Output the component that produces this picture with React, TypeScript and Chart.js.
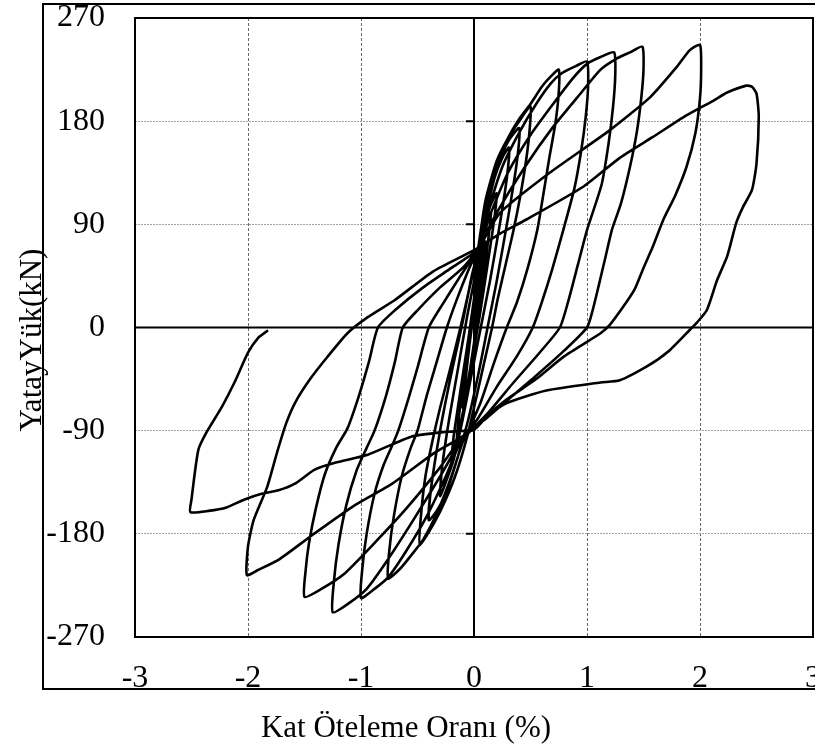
import React, { useEffect, useRef } from "react";
import { Chart, registerables } from "chart.js";

Chart.register(...registerables);

// Axis ticks
const xTicks = [-3, -2, -1, 0, 1, 2, 3];
const yTicks = [-270, -180, -90, 0, 90, 180, 270];
const xTitle = "Kat Öteleme Oranı (%)";
const yTitle = "YatayYük(kN)";

// Hysteresis record: drift ratio (%) vs lateral load (kN), cycle by cycle
const cycle010 = [[0, 0], [0.04, 35], [0.08, 62], [0.1, 75], [0.08, 55], [0.04, 20], [0, -15], [-0.05, -45], [-0.1, -70], [-0.08, -50], [-0.04, -15], [0, 15], [0.03, 40]];
const cycle015 = [[0.08, 75], [0.12, 92], [0.15, 100], [0.13, 80], [0.08, 40], [0.02, 0], [-0.04, -40], [-0.1, -75], [-0.15, -95], [-0.13, -75], [-0.08, -35], [-0.02, 5], [0.02, 40]];
const cycle020 = [[0.08, 80], [0.14, 105], [0.2, 117], [0.18, 95], [0.12, 55], [0.05, 10], [-0.02, -30], [-0.1, -75], [-0.16, -100], [-0.2, -117], [-0.18, -95], [-0.12, -55], [-0.05, -10], [0, 25], [0.03, 45]];
const cycle030 = [[0.1, 95], [0.18, 130], [0.25, 148], [0.31, 157], [0.29, 130], [0.22, 85], [0.14, 40], [0.06, 0], [-0.02, -40], [-0.1, -80], [-0.18, -115], [-0.25, -135], [-0.3, -147], [-0.28, -120], [-0.22, -80], [-0.14, -35], [-0.06, 10], [0, 40], [0.04, 60]];
const cycle040 = [[0.12, 110], [0.2, 140], [0.3, 162], [0.4, 174], [0.38, 145], [0.3, 95], [0.2, 40], [0.12, 0], [0.04, -40], [-0.05, -80], [-0.15, -115], [-0.25, -145], [-0.33, -160], [-0.4, -168], [-0.38, -140], [-0.3, -90], [-0.2, -40], [-0.1, 5], [-0.02, 45], [0.03, 65]];
const cycle050 = [[0.1, 110], [0.2, 145], [0.3, 165], [0.4, 180], [0.5, 193], [0.49, 170], [0.46, 145], [0.41, 115], [0.35, 85], [0.28, 55], [0.21, 25], [0.16, 0], [0.08, -35], [0, -70], [-0.06, -95], [-0.15, -125], [-0.25, -150], [-0.35, -170], [-0.48, -190], [-0.47, -165], [-0.43, -130], [-0.37, -100], [-0.3, -70], [-0.2, -32], [-0.12, 0], [-0.05, 30], [0.02, 60]];
const cycle075 = [[0.1, 105], [0.2, 140], [0.3, 165], [0.4, 182], [0.5, 195], [0.6, 210], [0.68, 219], [0.75, 225], [0.75, 205], [0.72, 178], [0.67, 150], [0.62, 120], [0.56, 85], [0.47, 50], [0.38, 22], [0.29, 0], [0.18, -30], [0.06, -65], [-0.05, -90], [-0.1, -100], [-0.2, -130], [-0.32, -160], [-0.45, -185], [-0.55, -198], [-0.65, -210], [-0.76, -219], [-0.75, -195], [-0.71, -165], [-0.64, -130], [-0.56, -105], [-0.5, -90], [-0.42, -60], [-0.33, -30], [-0.24, 0], [-0.15, 25], [-0.05, 50], [0.04, 70]];
const cycle100 = [[0.12, 100], [0.25, 140], [0.4, 170], [0.55, 195], [0.68, 213], [0.78, 222], [0.9, 228], [1.0, 232], [1.01, 212], [0.99, 185], [0.95, 155], [0.89, 122], [0.79, 85], [0.69, 50], [0.6, 22], [0.52, 0], [0.38, -25], [0.2, -52], [0.03, -80], [-0.12, -100], [-0.25, -130], [-0.42, -165], [-0.6, -195], [-0.76, -218], [-0.88, -228], [-1.0, -236], [-0.99, -212], [-0.95, -180], [-0.88, -145], [-0.8, -120], [-0.72, -102], [-0.67, -90], [-0.58, -62], [-0.5, -35], [-0.4, 0], [-0.28, 20], [-0.12, 45], [0.03, 68]];
const cycle125 = [[0.15, 100], [0.3, 135], [0.5, 168], [0.7, 195], [0.88, 218], [1.0, 230], [1.12, 236], [1.24, 240], [1.25, 220], [1.23, 192], [1.19, 160], [1.13, 125], [1.0, 85], [0.92, 55], [0.84, 25], [0.76, 0], [0.58, -22], [0.35, -48], [0.12, -75], [-0.12, -100], [-0.3, -130], [-0.55, -170], [-0.78, -205], [-0.95, -228], [-1.1, -240], [-1.25, -248.5], [-1.24, -222], [-1.2, -190], [-1.13, -155], [-1.04, -125], [-0.95, -105], [-0.88, -90], [-0.78, -60], [-0.7, -30], [-0.63, 0], [-0.5, 15], [-0.3, 35], [-0.1, 52], [0.03, 68]];
const cycle150 = [[0.2, 100], [0.45, 140], [0.7, 175], [0.95, 205], [1.12, 225], [1.27, 235], [1.38, 240], [1.49, 245], [1.5, 225], [1.48, 200], [1.44, 170], [1.38, 140], [1.3, 108], [1.22, 85], [1.16, 60], [1.1, 35], [1.05, 15], [1.0, 0], [0.8, -20], [0.55, -42], [0.3, -63], [0.1, -80], [-0.1, -95], [-0.3, -122], [-0.6, -158], [-0.9, -190], [-1.15, -215], [-1.35, -228], [-1.5, -235], [-1.49, -212], [-1.46, -188], [-1.4, -158], [-1.32, -128], [-1.22, -105], [-1.12, -88], [-1.02, -60], [-0.93, -30], [-0.85, 0], [-0.7, 15], [-0.45, 35], [-0.2, 52], [0.03, 68]];
const cycle200 = [[0.23, 100], [0.67, 135], [1.2, 172], [1.56, 201], [1.8, 228], [1.91, 242], [2.0, 246.5], [2.01, 225], [2.0, 200], [1.96, 170], [1.88, 140], [1.78, 115], [1.68, 95], [1.58, 70], [1.5, 52], [1.42, 33], [1.32, 18], [1.2, 2], [1.12, -5], [0.8, -25], [0.55, -45], [0.3, -62], [0.1, -78], [-0.1, -95], [-0.36, -110], [-0.72, -136], [-1.07, -156], [-1.43, -181], [-1.72, -202], [-1.92, -212], [-2.01, -216], [-2.0, -191], [-1.95, -168], [-1.83, -139], [-1.74, -108], [-1.66, -83], [-1.58, -65], [-1.45, -45], [-1.3, -26], [-1.12, -5], [-0.94, 9], [-0.7, 24], [-0.36, 49], [0, 67.5]];
const cycle250 = [[0.23, 82], [0.46, 94], [0.97, 123], [1.29, 148], [1.58, 166], [1.88, 185], [2.12, 198], [2.24, 205], [2.41, 211], [2.46, 210], [2.5, 204], [2.52, 184], [2.5, 143], [2.46, 120], [2.38, 105], [2.32, 91], [2.24, 62], [2.15, 41], [2.06, 15], [1.97, 4], [1.93, 0], [1.73, -20], [1.53, -34], [1.29, -46], [1.12, -48], [0.64, -55], [0.29, -66], [0.11, -78], [0, -89], [-0.24, -91], [-0.55, -95], [-0.94, -111], [-1.23, -118], [-1.41, -124], [-1.58, -136], [-1.73, -142], [-1.88, -145], [-2.03, -150], [-2.19, -157], [-2.35, -160], [-2.51, -161], [-2.5, -150], [-2.44, -107], [-2.37, -92], [-2.23, -69], [-2.12, -48], [-2.0, -22], [-1.91, -9], [-1.83, -3]];

const cycles = [cycle010, cycle015, cycle020, cycle030, cycle040, cycle050, cycle075, cycle100, cycle125, cycle150, cycle200, cycle250];

const SERIF = '"Liberation Serif", "Times New Roman", serif';

const framePlugin = {
  id: "framePlugin",
  beforeDatasetsDraw(chart: any) {
    const { ctx, chartArea: a, scales } = chart;
    const xs = scales.x;
    const ys = scales.y;
    const x0 = xs.getPixelForValue(0);
    const y0 = ys.getPixelForValue(0);
    ctx.save();
    ctx.strokeStyle = "#000";
    ctx.lineWidth = 2;
    ctx.beginPath();
    ctx.moveTo(a.left, y0);
    ctx.lineTo(a.right, y0);
    ctx.moveTo(x0, a.top);
    ctx.lineTo(x0, a.bottom);
    yTicks.forEach((v) => {
      if (v === 0 || Math.abs(v) === 270) return;
      const p = ys.getPixelForValue(v);
      ctx.moveTo(x0 - 8, p);
      ctx.lineTo(x0, p);
    });
    ctx.stroke();
    ctx.restore();
  },
  afterDraw(chart: any) {
    const { ctx, chartArea: a } = chart;
    ctx.save();
    ctx.strokeStyle = "#000";
    ctx.lineWidth = 2;
    ctx.strokeRect(a.left, a.top, a.right - a.left, a.bottom - a.top);
    ctx.strokeRect(43, 4, 820, 685);
    ctx.fillStyle = "#000";
    ctx.font = `31px ${SERIF}`;
    ctx.textAlign = "center";
    ctx.textBaseline = "alphabetic";
    ctx.fillText(xTitle, 406, 737);
    ctx.translate(41, 340);
    ctx.rotate(-Math.PI / 2);
    ctx.fillText(yTitle, 0, 0);
    ctx.restore();
  },
};

export default function App() {
  const ref = useRef<HTMLCanvasElement | null>(null);
  useEffect(() => {
    if (!ref.current) return;
    const points = cycles.flat().map(([x, y]) => ({ x, y }));
    const chart = new Chart(ref.current, {
      type: "scatter",
      data: {
        datasets: [
          {
            data: points,
            showLine: true,
            borderColor: "#000",
            backgroundColor: "#000",
            borderWidth: 2.6,
            borderJoinStyle: "round",
            borderCapStyle: "round",
            pointRadius: 0,
            tension: 0.2,
            fill: false,
          } as any,
        ],
      },
      options: {
        animation: false,
        responsive: false,
        maintainAspectRatio: false,
        layout: { padding: { top: 18, right: 2, left: 0, bottom: 0 } },
        plugins: { legend: { display: false }, tooltip: { enabled: false } },
        scales: {
          x: {
            type: "linear",
            min: xTicks[0],
            max: xTicks[xTicks.length - 1],
            afterBuildTicks: (s: any) => {
              s.ticks = xTicks.map((v) => ({ value: v }));
            },
            ticks: {
              color: "#000",
              font: { family: SERIF, size: 32 },
              padding: 22,
              maxRotation: 0,
              autoSkip: false,
              callback: (v: any) => String(v),
            },
            grid: {
              drawTicks: false,
              lineWidth: 1,
              color: (c: any) =>
                c.tick && (c.tick.value === 0 || Math.abs(c.tick.value) === 3) ? "rgba(0,0,0,0)" : "#6a6a6a",
            },
            border: { display: false, dash: [3, 2] },
            afterFit: (s: any) => {
              s.height = 109;
              s.paddingLeft = 0;
              s.paddingRight = 0;
            },
          },
          y: {
            type: "linear",
            min: yTicks[0],
            max: yTicks[yTicks.length - 1],
            afterBuildTicks: (s: any) => {
              s.ticks = yTicks.map((v) => ({ value: v }));
            },
            ticks: {
              color: "#000",
              font: { family: SERIF, size: 32 },
              padding: 30,
              autoSkip: false,
              callback: (v: any) => String(v),
            },
            grid: {
              drawTicks: false,
              lineWidth: 1,
              color: (c: any) =>
                c.tick && (c.tick.value === 0 || Math.abs(c.tick.value) === 270) ? "rgba(0,0,0,0)" : "#a0a0a0",
            },
            border: { display: false, dash: [2, 1] },
            afterFit: (s: any) => {
              s.width = 135;
              s.paddingTop = 0;
              s.paddingBottom = 0;
            },
          },
        },
      } as any,
      plugins: [framePlugin],
    });
    return () => chart.destroy();
  }, []);

  return (
    <div style={{ position: "fixed", left: 0, top: 0, width: 815, height: 746, background: "#fff" }}>
      <canvas ref={ref} width={815} height={746} style={{ display: "block", width: 815, height: 746 }} />
    </div>
  );
}
